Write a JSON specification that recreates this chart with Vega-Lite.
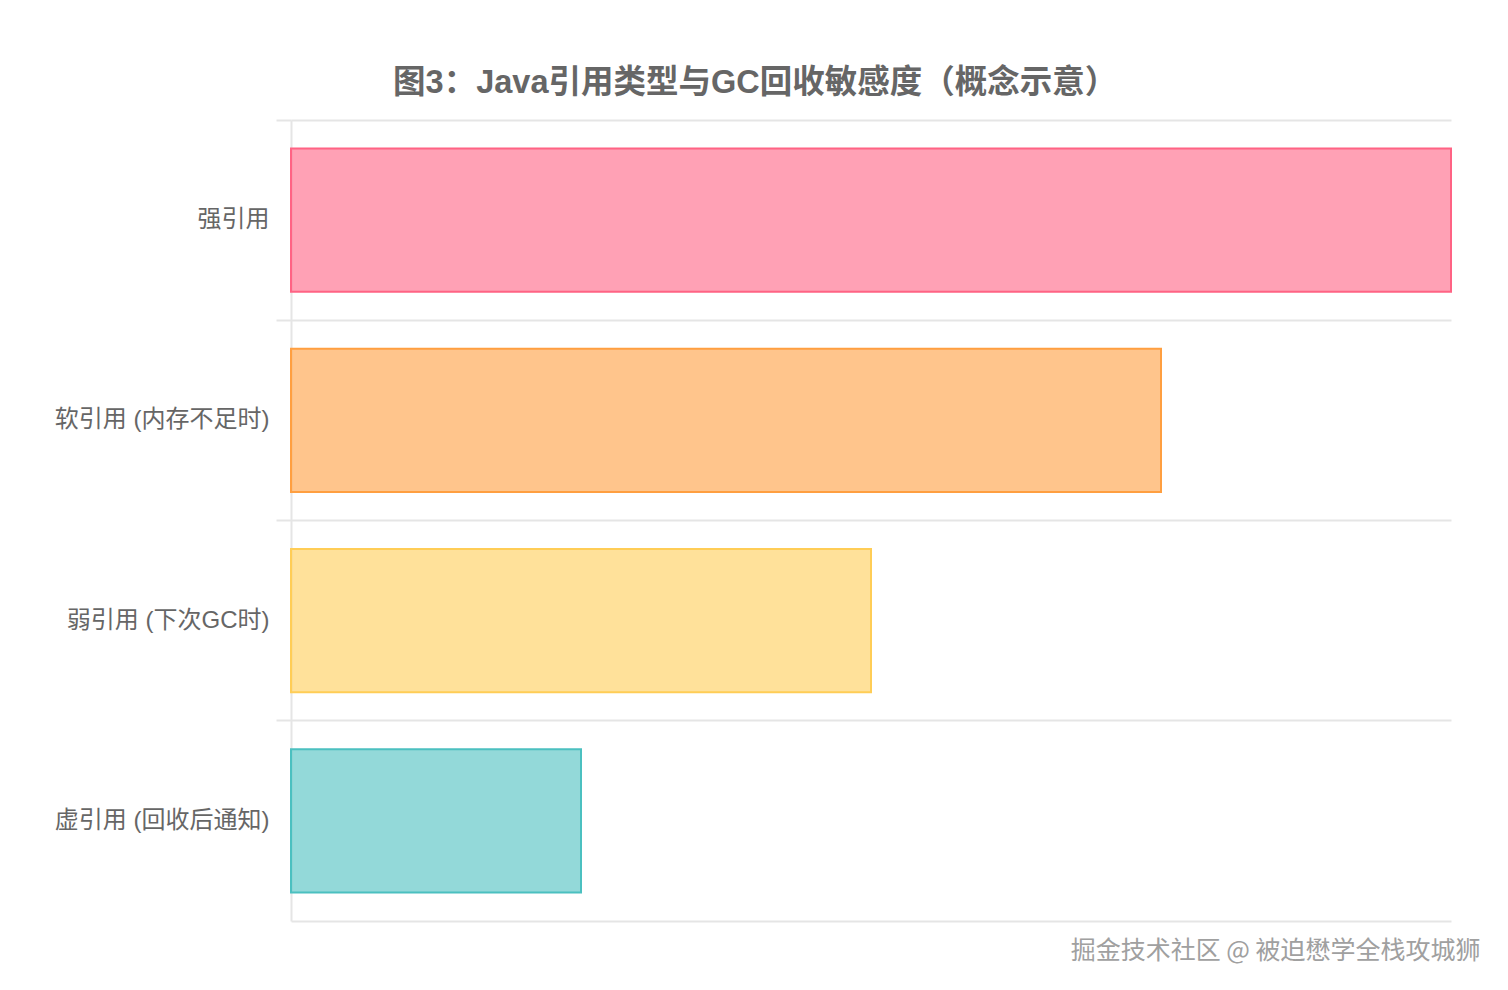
{
  "$schema": "https://vega.github.io/schema/vega-lite/v6.json",
  "width": 1160,
  "height": 801,
  "autosize": {"type": "none"},
  "padding": {"left": 291, "top": 120, "right": 57, "bottom": 69},
  "background": "white",
  "title": {
    "text": "图3：Java引用类型与GC回收敏感度（概念示意）",
    "font": "Liberation Sans, Noto Sans CJK SC",
    "fontSize": 32.5,
    "fontWeight": "bold",
    "color": "#666666",
    "anchor": "middle",
    "frame": "bounds",
    "offset": 20,
    "dx": -12
  },
  "data": {
    "values": [
      {"type": "强引用", "value": 100},
      {"type": "软引用 (内存不足时)", "value": 75},
      {"type": "弱引用 (下次GC时)", "value": 50},
      {"type": "虚引用 (回收后通知)", "value": 25}
    ]
  },
  "mark": {"type": "bar", "height": {"band": 0.715}, "fillOpacity": 0.6, "strokeWidth": 2, "cornerRadius": 0},
  "encoding": {
    "y": {
      "field": "type",
      "type": "nominal",
      "sort": null,
      "scale": {"paddingInner": 0, "paddingOuter": 0},
      "axis": {
        "title": null,
        "bandPosition": 0,
        "grid": true,
        "gridColor": "#e5e5e5",
        "gridWidth": 2,
        "ticks": true,
        "tickSize": 15,
        "tickColor": "#e5e5e5",
        "tickWidth": 2,
        "domain": true,
        "domainColor": "#e5e5e5",
        "domainWidth": 2,
        "labelFont": "Liberation Sans, Noto Sans CJK SC",
        "labelFontSize": 24,
        "labelColor": "#666666",
        "labelPadding": 7,
        "labelLimit": 400
      }
    },
    "x": {
      "field": "value",
      "type": "quantitative",
      "scale": {"domain": [0, 100], "nice": false},
      "axis": {
        "labels": false,
        "ticks": false,
        "grid": false,
        "domain": true,
        "domainColor": "#e5e5e5",
        "domainWidth": 2,
        "title": "掘金技术社区 @ 被迫懋学全栈攻城狮",
        "titleFont": "Noto Sans CJK SC",
        "titleFontSize": 25,
        "titleFontWeight": "normal",
        "titleColor": "#a0a0a0",
        "titleAlign": "right",
        "titleAnchor": "end",
        "titleBaseline": "alphabetic",
        "titleX": 1189,
        "titleY": 37
      }
    },
    "fill": {
      "field": "type",
      "type": "nominal",
      "sort": null,
      "scale": {
        "domain": ["强引用", "软引用 (内存不足时)", "弱引用 (下次GC时)", "虚引用 (回收后通知)"],
        "range": ["#ff6384", "#ff9f40", "#ffcd56", "#4bc0c0"]
      },
      "legend": null
    },
    "stroke": {
      "field": "type",
      "type": "nominal",
      "sort": null,
      "scale": {
        "domain": ["强引用", "软引用 (内存不足时)", "弱引用 (下次GC时)", "虚引用 (回收后通知)"],
        "range": ["#ff6384", "#ff9f40", "#ffcd56", "#4bc0c0"]
      },
      "legend": null
    }
  },
  "config": {"view": {"stroke": null}}
}
